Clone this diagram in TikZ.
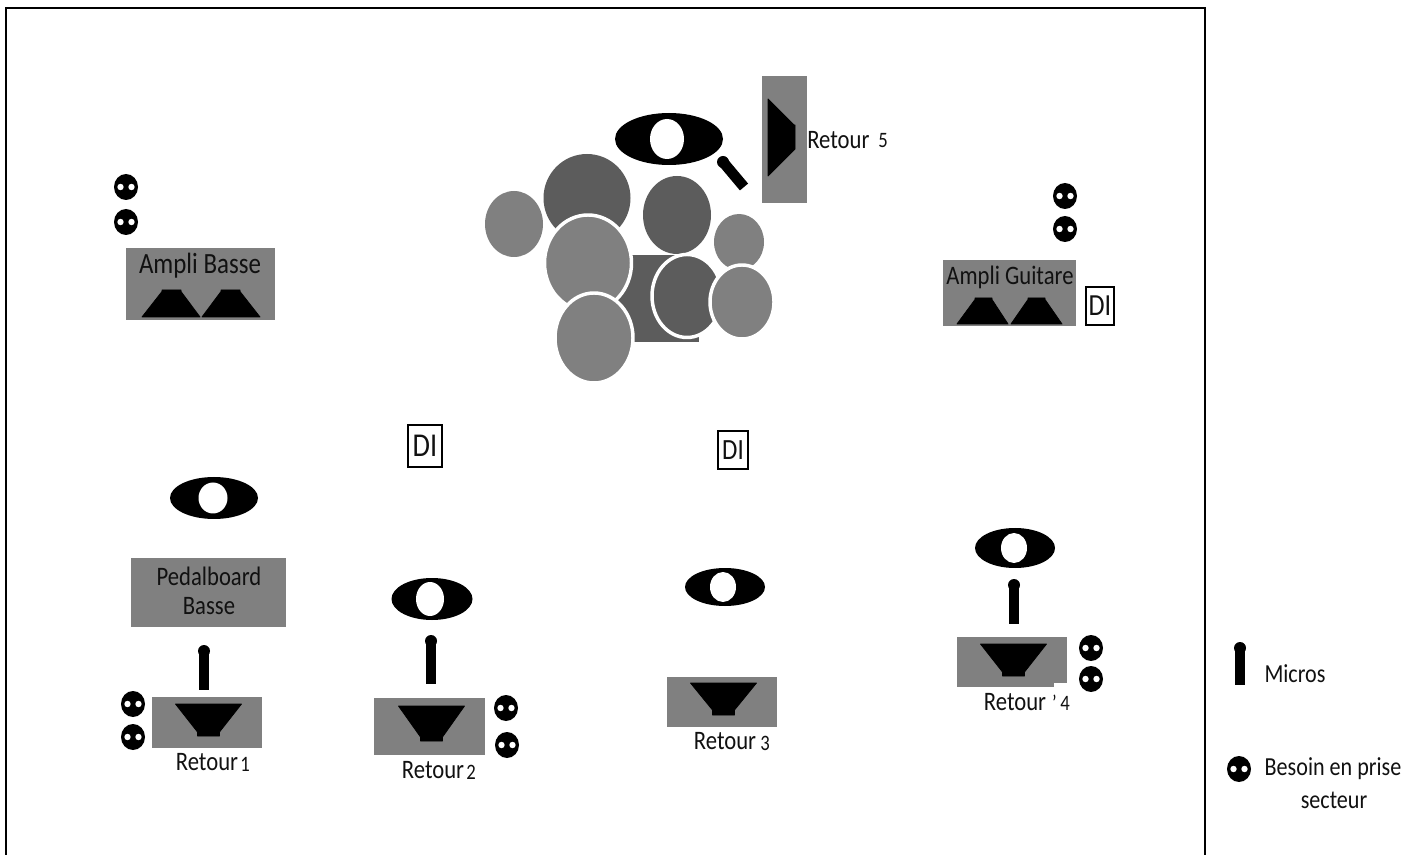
\documentclass[tikz,border=0pt]{standalone}
\usepackage{fontspec}
\setmainfont{Carlito}[FakeStretch=0.85]
\definecolor{lightg}{HTML}{808080}
\definecolor{darkg}{HTML}{5C5C5C}
\definecolor{ink}{HTML}{111111}
\newcommand{\fs}[1]{\fontsize{#1}{#1}\selectfont}
\tikzset{
  pane/.style={fill=lightg,draw=none},
  black shape/.style={fill=black,draw=black,line width=0.6pt,line join=round},
  drumlight/.style={fill=lightg,draw=none},
  drumdark/.style={fill=darkg,draw=none},
  rim/.style={draw=white,line width=2.6pt},
  label/.style={inner sep=0pt,text=ink,font=\fs{20}},
  labelnum/.style={inner sep=0pt,text=ink,font=\fs{16.5}},
  dibox/.style={draw=black,line width=1.6pt,fill=white,inner sep=0pt,anchor=center,text=ink},
}
% plug: x y
\newcommand{\plugat}[2]{%
  \fill[black] (#1,#2) ellipse [x radius=12,y radius=13];
  \fill[white] (#1-5.5,#2) circle [radius=3.2];
  \fill[white] (#1+5.5,#2) circle [radius=3.2];}
% eye: x y rx ry wx wrx wry
\newcommand{\eyeat}[7]{%
  \fill[black] (#1,#2) ellipse [x radius=#3,y radius=#4];
  \fill[white] (#5,#2) ellipse [x radius=#6,y radius=#7];}
% vertical mic: x top bottom
\newcommand{\micat}[3]{%
  \fill[black] (#1,#2) circle [radius=6];
  \fill[black] (#1-5,#2) rectangle (#1+5,#3);}
% monitor: x0 y0 x1 y1 (box), cx (speaker centre), top y, neck y, bottom y
\newcommand{\monitorat}[8]{%
  \fill[pane] (#1,#2) rectangle (#3,#4);
  \path[black shape] (#5-33,#6) -- (#5+33,#6) -- (#5+11,#7) -- (#5+11,#8) -- (#5-11,#8) -- (#5-11,#7) -- cycle;}
% amp trapezoid: x0 x1 base, tx0 tx1 top
\newcommand{\trapat}[6]{%
  \path[black shape] (#1,#3) -- (#2,#3) -- (#5,#6+1.5) -- (#5,#6) -- (#4,#6) -- (#4,#6+1.5) -- cycle;}
\begin{document}
\begin{tikzpicture}[x=0.75pt,y=-0.75pt]
\useasboundingbox (0,0) rectangle (1418,855);
\fill[white] (0,0) rectangle (1418,855);
% frame
\draw[line width=1.5pt,black] (6,856) -- (6,8) -- (1205,8) -- (1205,856);

% plugs
\plugat{126}{187}\plugat{126}{222}
\plugat{1065}{196}\plugat{1065}{229}
\plugat{133}{704}\plugat{133}{737}
\plugat{506}{708}\plugat{507}{745}
\plugat{1091}{648}\plugat{1091}{679}
\plugat{1239}{769}

% amp basse
\fill[pane] (126,248) rectangle (275,320);
\node[label,font=\fs{22}] (ampbasse) at (200,266) {Ampli Basse};
\trapat{142}{200}{317}{162}{181}{290}
\trapat{202}{260}{317}{221}{240}{290}

% amp guitare
\fill[pane] (943,260) rectangle (1076,326);
\node[label,font=\fs{20}] (ampguitare) at (1010,277) {Ampli Guitare};
\trapat{957}{1008}{324}{975}{992}{298}
\trapat{1011}{1062}{324}{1028}{1045}{298}

% DI boxes
\node[dibox,font=\fs{23},minimum width=21.5pt,minimum height=29pt] (di1) at (1100,306) {DI};
\node[dibox,font=\fs{25},minimum width=25pt,minimum height=31.5pt] (di2) at (425,446) {DI};
\node[dibox,font=\fs{22},minimum width=22pt,minimum height=29pt] (di3) at (733,450) {DI};

% drums
\fill[drumlight] (514,224) ellipse [x radius=29,y radius=33];
\fill[drumdark] (587,198) ellipse [x radius=43.5,y radius=44];
\fill[drumdark] (617,255) rectangle (699,342);
\filldraw[drumlight,rim] (588,263) ellipse [x radius=43.5,y radius=48];
\fill[drumdark] (677,215) ellipse [x radius=34,y radius=39];
\fill[drumlight] (739,242) ellipse [x radius=25,y radius=28];
\filldraw[drumdark,rim] (687,296) ellipse [x radius=35,y radius=41.5];
\filldraw[drumlight,rim] (742,302) ellipse [x radius=32,y radius=37];
\filldraw[drumlight,rim] (594,338) ellipse [x radius=39,y radius=45];

% drummer
\eyeat{669}{139}{54}{26}{667}{17}{20}
\fill[black] (723,162) circle [radius=6];
\draw[black,line width=8pt] (723,162) -- (744,187);
% retour 5
\fill[pane] (762,76) rectangle (807,203);
\path[black shape] (768,99) -- (794,125) -- (795,125) -- (795,149) -- (794,150) -- (768,176) -- cycle;
\node[label,anchor=west] (r5) at (807,140) {Retour};
\node[labelnum] (r5n) at (883,141) {5};

% musician 1
\eyeat{214}{498}{44}{21}{213}{14.5}{15.5}
\fill[pane] (131,558) rectangle (286,627);
\node[label] (pb1) at (209,576) {Pedalboard};
\node[label] (pb2) at (209,606) {Basse};
\micat{204}{651}{690}
\monitorat{152}{697}{262}{748}{208.5}{704}{732}{736}
\node[label] (r1) at (207,762) {Retour};
\node[labelnum] (r1n) at (245,764) {1};

% musician 2
\eyeat{432}{599}{40.5}{21}{430}{14}{17}
\micat{431}{641}{684}
\monitorat{374}{698}{485}{755}{431.5}{706}{737}{741}
\node[label] (r2) at (433,770) {Retour};
\node[labelnum] (r2n) at (471,772) {2};

% musician 3
\eyeat{725}{587}{40}{19}{723}{13}{15}
\monitorat{667}{677}{777}{727}{723.5}{683}{710}{715}
\node[label] (r3) at (725,741) {Retour};
\node[labelnum] (r3n) at (765,743) {3};

% musician 4
\eyeat{1015}{548}{40}{20}{1014}{13}{15}
\micat{1014}{585}{624}
\monitorat{957}{637}{1067}{687}{1013.5}{644}{672}{676}
\fill[white] (1054,683) rectangle (1068,688);
\node[label] (r4) at (1015,702) {Retour};
\node[labelnum] (r4n) at (1061,703) {'\,4};

% legend
\micat{1240}{648}{685}
\node[label,font=\fs{19.5}] (lm) at (1295,674) {Micros};
\node[label,font=\fs{19.5}] (lb) at (1333,769) {Besoin en prise};
\node[label,font=\fs{19.5}] (ls) at (1334,800) {secteur};
\end{tikzpicture}
\end{document}
